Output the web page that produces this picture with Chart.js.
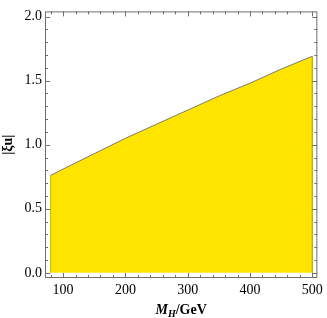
<!DOCTYPE html>
<html>
<head>
<meta charset="utf-8">
<script src="https://cdn.jsdelivr.net/npm/chart.js@4/dist/chart.umd.min.js"></script>
<style>
  html, body { margin: 0; padding: 0; background: #fff; }
  #wrap { width: 327px; height: 318px; }
</style>
</head>
<body>
<div id="wrap"><canvas id="c" width="327" height="318"></canvas></div>
<script>
// Allowed region of |xi u| vs M_H (filled down to zero).
const massGeV  = [80, 100, 150, 200, 250, 300, 350, 400, 450, 500];
const xiBound  = [0.76, 0.81, 0.93, 1.05, 1.16, 1.27, 1.38, 1.48, 1.59, 1.69];
const xTickVals = [100, 200, 300, 400, 500];
const yTickVals = [0.0, 0.5, 1.0, 1.5, 2.0];

const FRAME = '#6e6e6e';
const FILL  = 'rgb(255,228,0)';

// polygon: bottom-left, up the boundary, down to bottom-right
const region = [{ x: massGeV[0], y: 0 }]
  .concat(massGeV.map((m, i) => ({ x: m, y: xiBound[i] })))
  .concat([{ x: massGeV[massGeV.length - 1], y: 0 }]);

// frame + inward ticks on all four sides (Mathematica style)
const framePlugin = {
  id: 'frame',
  afterDraw(chart) {
    const { ctx, chartArea: a, scales } = chart;
    const xs = scales.x, ys = scales.y;
    ctx.save();
    ctx.strokeStyle = FRAME;
    ctx.lineWidth = 1;
    ctx.strokeRect(a.left + 0.5, a.top + 0.5, a.right - a.left - 1, a.bottom - a.top - 1);

    ctx.beginPath();
    for (let v = 80; v <= 500; v += 20) {
      const px = Math.round(xs.getPixelForValue(v)) + 0.5;
      const len = v % 100 === 0 ? 5 : 3;
      ctx.moveTo(px, a.bottom); ctx.lineTo(px, a.bottom - len);
      ctx.moveTo(px, a.top);    ctx.lineTo(px, a.top + len);
    }
    for (let k = 0; k <= 20; k++) {
      const v = k / 10;
      const py = Math.round(ys.getPixelForValue(v)) + 0.5;
      const len = k % 5 === 0 ? 5 : 3;
      ctx.moveTo(a.left, py);  ctx.lineTo(a.left + len, py);
      ctx.moveTo(a.right, py); ctx.lineTo(a.right - len, py);
    }
    ctx.stroke();

    // x title: M_H/GeV with italic M and subscript H
    ctx.fillStyle = '#000';
    ctx.textBaseline = 'alphabetic';
    const fM = 'italic bold 14px "Liberation Serif"';
    const fH = 'italic bold 10px "Liberation Serif"';
    const fG = 'bold 14px "Liberation Serif"';
    ctx.font = fM; const wM = ctx.measureText('M').width;
    ctx.font = fH; const wH = ctx.measureText('H').width;
    ctx.font = fG; const wG = ctx.measureText('/GeV').width;
    let x = (a.left + a.right) / 2 - (wM + wH + wG) / 2;
    const base = 314;
    ctx.font = fM; ctx.fillText('M', x, base); x += wM;
    ctx.font = fH; ctx.fillText('H', x, base + 3); x += wH;
    ctx.font = fG; ctx.fillText('/GeV', x, base);
    ctx.restore();
  }
};

new Chart(document.getElementById('c'), {
  type: 'line',
  data: {
    datasets: [{
      data: region,
      fill: 'origin',
      backgroundColor: FILL,
      borderWidth: 1,
      borderColor: '#7a7a7a',
      segment: {
        borderColor: c => c.p0.parsed.x === c.p1.parsed.x ? '#c9b300' : '#7a7a7a'
      },
      pointRadius: 0,
      tension: 0
    }]
  },
  options: {
    responsive: false,
    animation: false,
    layout: { padding: { top: 4, right: 8, left: 0, bottom: 0 } },
    plugins: { legend: { display: false }, tooltip: { enabled: false } },
    scales: {
      x: {
        type: 'linear',
        min: 71, max: 508,
        grid: { display: false, drawTicks: false },
        border: { display: false },
        afterBuildTicks: s => { s.ticks = xTickVals.map(v => ({ value: v })); },
        afterFit: s => { s.height = 40; },
        ticks: {
          padding: 4,
          color: '#000',
          maxRotation: 0,
          font: { family: '"Liberation Serif"', size: 14 },
          callback: v => String(v)
        }
      },
      y: {
        type: 'linear',
        min: -0.04, max: 2.04,
        grid: { display: false, drawTicks: false },
        border: { display: false },
        afterBuildTicks: s => { s.ticks = yTickVals.map(v => ({ value: v })); },
        afterFit: s => { s.width = 45; },
        ticks: {
          padding: 3,
          color: '#000',
          font: { family: '"Liberation Serif"', size: 14 },
          callback: v => Number(v).toFixed(1)
        },
        title: {
          display: true,
          text: '|ξu|',
          color: '#000',
          padding: { top: 0, bottom: 0 },
          font: { family: '"Liberation Serif"', size: 14, weight: 'bold' }
        }
      }
    }
  },
  plugins: [framePlugin]
});
</script>
</body>
</html>
